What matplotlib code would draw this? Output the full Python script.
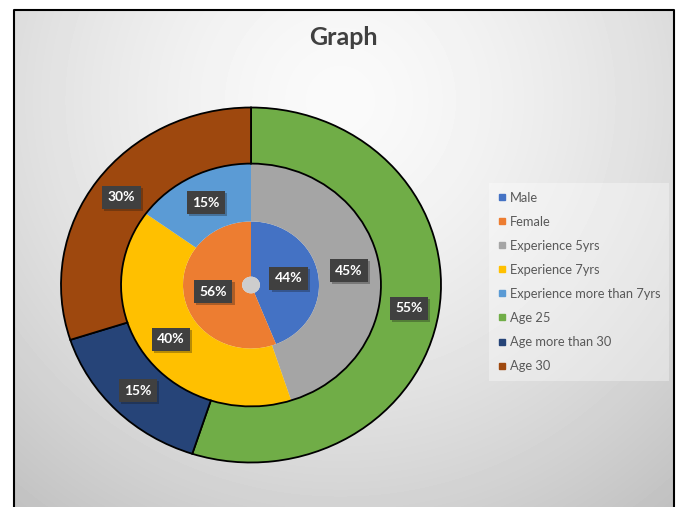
import numpy as np
import matplotlib.pyplot as plt
from matplotlib.lines import Line2D
from matplotlib.patches import Circle
from matplotlib import patheffects

plt.rcParams['font.family'] = ['Lato', 'DejaVu Sans']

# ring values (percent)
gender = ['Male', 'Female']
gender_pct = [44, 56]
experience = ['Experience 5yrs', 'Experience 7yrs', 'Experience more than 7yrs']
experience_pct = [45, 40, 15]
age = ['Age 25', 'Age more than 30', 'Age 30']
age_pct = [55, 15, 30]

gender_colors = ['#4472C4', '#ED7D31']
experience_colors = ['#A5A5A5', '#FFC000', '#5B9BD5']
age_colors = ['#70AD47', '#264478', '#9E480E']

W, H = 676, 507
fig = plt.figure(figsize=(W / 100, H / 100), dpi=100)

# grey radial background inside a black frame
bg = fig.add_axes([0, 0, 1, 1])
yy, xx = np.mgrid[0:H, 0:W]
d = np.hypot(xx - 340, yy - 100)
shade = np.clip(250 - 0.0048 * d ** 1.5, 0, 255) / 255
shade[:, :14] = 1
shade[:10, :] = 1
shade[:, 674:] = 1
bg.imshow(shade, cmap='gray', vmin=0, vmax=1, extent=(0, W, H, 0),
          interpolation='bilinear', aspect='auto')
bg.plot([13.5, 13.5, 673.5, 673.5], [H, 9.5, 9.5, H], color='black', lw=1.5)
bg.set_xlim(0, W)
bg.set_ylim(H, 0)
bg.axis('off')

# doughnut axes (slightly wider than tall)
cx, cy, rx, ry, lim = 251, 285, 190, 177.5, 1.05
ax = fig.add_axes([(cx - lim * rx) / W, (H - cy - lim * ry) / H,
                   2 * lim * rx / W, 2 * lim * ry / H])
ax.patch.set_alpha(0)

lbl = dict(color='white', fontsize=10, fontweight='bold')

w_in, _, t_in = ax.pie(gender_pct, radius=0.358, colors=gender_colors,
                       startangle=90, counterclock=False, autopct='%.0f%%',
                       pctdistance=0.566, wedgeprops=dict(width=0.311),
                       textprops=lbl)
w_mid, _, t_mid = ax.pie(experience_pct, radius=0.684, colors=experience_colors,
                         startangle=90, counterclock=False, autopct='%.0f%%',
                         pctdistance=0.762, wedgeprops=dict(width=0.326),
                         textprops=lbl)
w_out, _, t_out = ax.pie(age_pct, radius=1.0, colors=age_colors,
                         startangle=90, counterclock=False, autopct='%.0f%%',
                         pctdistance=0.842,
                         wedgeprops=dict(width=0.316, edgecolor='black',
                                         linewidth=1.3, zorder=2),
                         textprops=lbl)

# small grey centre hole
ax.add_patch(Circle((0, 0), 0.047, facecolor='#cdcdcd', edgecolor='none'))

for t in t_in + t_mid + t_out:
    t.set_bbox(dict(boxstyle='square,pad=0.4', fc='#404040', ec='none'))
    t.get_bbox_patch().set_path_effects([
        patheffects.SimplePatchShadow(offset=(1.5, -1.5), alpha=0.3),
        patheffects.Normal()])
    t.set_zorder(4)

ax.set_aspect('auto')
ax.set_xlim(-lim, lim)
ax.set_ylim(-lim, lim)
ax.axis('off')

# legend
names = gender + experience + age
cols = gender_colors + experience_colors + age_colors
handles = [Line2D([], [], marker='s', ls='none', color=c, markersize=5)
           for c in cols]
leg = fig.legend(handles, names, loc='center left',
                 bbox_to_anchor=(489 / W, 1 - 282 / H), fontsize=9.3,
                 labelcolor='#595959', frameon=True, fancybox=False,
                 handlelength=0.6, handletextpad=0.3, labelspacing=0.93,
                 borderpad=0.7, borderaxespad=0)
leg.get_frame().set_facecolor('white')
leg.get_frame().set_alpha(0.35)
leg.get_frame().set_edgecolor('none')

fig.text(343 / W, 1 - 38 / H, 'Graph', ha='center', va='center',
         fontsize=18, fontweight='bold', color='#404040')

fig.savefig('out.png', dpi=100)
